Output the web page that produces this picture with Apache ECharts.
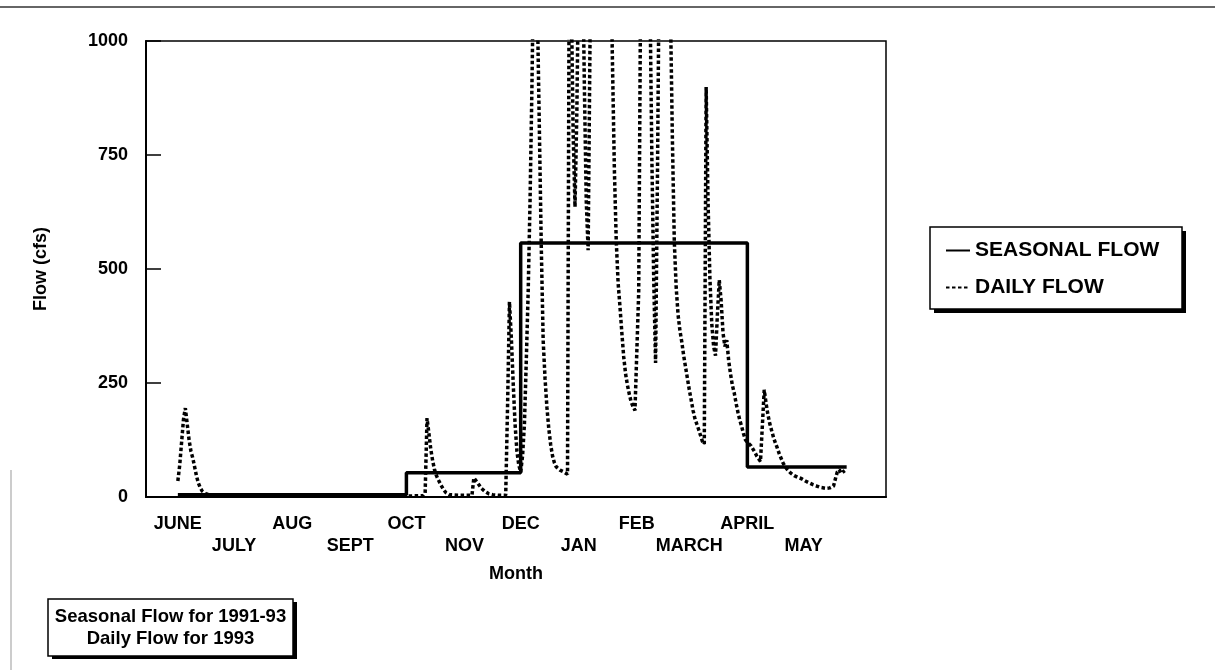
<!DOCTYPE html>
<html><head><meta charset="utf-8">
<script src="https://cdn.jsdelivr.net/npm/echarts@6/dist/echarts.min.js"></script>
<style>html,body{margin:0;padding:0;background:#fff}#c{width:1215px;height:670px}</style>
</head><body><div id="c"></div>
<script>
// Month labels and their start day (days counted from June 1)
const monthNames = ['JUNE','JULY','AUG','SEPT','OCT','NOV','DEC','JAN','FEB','MARCH','APRIL','MAY'];
const monthStartDays = [0,30,61,92,122,153,183,214,245,273,304,334];
const yTicks = [0,250,500,750,1000];

// Seasonal flow (step values, 1991-93)
const seasonDays   = [0, 122, 183, 304, 357];
const seasonalFlow = [5, 53, 557, 66, 66];

// Daily flow 1993 (values above 1000 are clipped)
const dailyDays = [0,1,2,3,4,5,6,7,8,9,10,11,12,13,14,15,17,20,30,45,60,75,90,105,120,131,132,133,134,135,136,137,138,139,140,141,142,143,144,145,150,157,158,159,160,161,162,163,164,165,166,168,171,175,176,177,178,179,180,181,182,183,184,185,186,187,188,189,190,191,192,193,194,195,196,197,198,199,200,201,202,203,204,205,206,207,208,209,210,211,212,213,214,215,216,217,218,219,220,221,222,223,224,225,226,227,228,229,230,231,232,233,234,235,236,237,238,239,240,241,242,243,244,245,246,247,248,249,250,251,252,253,254,255,256,257,258,259,260,261,262,263,264,265,266,267,268,269,270,271,272,273,274,275,276,277,278,279,280,281,282,283,284,285,286,287,288,289,290,291,292,293,294,295,296,297,298,299,300,301,302,303,304,305,306,307,308,309,310,311,312,313,314,315,316,317,318,319,320,321,322,323,324,325,326,327,328,329,330,331,332,333,334,335,336,337,338,339,340,341,342,343,344,346,348,350,351,352,353,354,355,356];
const dailyFlow = [35,70,120,170,195,160,125,100,85,65,45,30,20,13,9,7,5,4,3,3,2,2,2,2,2,3,8,173,140,105,80,60,47,38,30,22,15,10,7,5,4,4,42,38,31,25,19,15,12,9,7,5,4,4,200,428,350,250,160,100,70,55,90,160,300,450,650,899,1200,1350,1050,800,548,344,260,197,150,115,90,75,66,62,59,57,55,53,50,1300,1100,800,636,850,1200,1400,1200,900,650,541,1000,1500,1800,2000,2100,2000,1900,1800,1700,1550,1400,1200,950,720,563,470,417,360,307,270,245,225,208,198,190,186,450,1100,1600,1800,1700,1500,1100,750,480,294,700,1200,1500,1700,1650,1500,1300,1050,780,560,460,400,365,340,310,285,260,235,213,190,172,160,148,135,122,116,899,650,480,380,330,310,400,476,430,360,330,344,300,270,245,228,205,185,168,154,138,125,120,118,112,105,98,90,84,78,75,235,205,180,160,145,130,118,107,95,85,75,68,62,58,53,50,47,45,43,41,40,38,35,33,31,29,27,25,24,22,21,20,19,20,24,40,55,60,52,50,58];

const FONT = "'Liberation Sans', Arial, Helvetica, sans-serif";
const W = 'bold';
const chart = echarts.init(document.getElementById('c'));
chart.setOption({
  animation: false,
  backgroundColor: '#fff',
  textStyle: { fontFamily: FONT, color: '#000' },
  grid: { left: 146, right: 329, top: 41, bottom: 173, show: true, borderColor: '#000', borderWidth: 1.5, containLabel: false },
  xAxis: {
    type: 'value', min: -17, max: 378,
    name: 'Month', nameLocation: 'middle', nameGap: 68,
    nameTextStyle: { fontSize: 18, fontWeight: W, color: '#000', fontFamily: FONT },
    axisLine: { show: true, onZero: false, lineStyle: { color: '#000', width: 2 } },
    axisTick: { show: false },
    splitLine: { show: false },
    axisLabel: {
      customValues: monthStartDays,
      fontSize: 18, fontWeight: W, color: '#000', fontFamily: FONT, lineHeight: 22, margin: 16,
      formatter: function (v) {
        const i = monthStartDays.indexOf(v);
        if (i < 0) return '';
        return i % 2 ? '\n' + monthNames[i] : monthNames[i];
      }
    }
  },
  yAxis: {
    type: 'value', min: yTicks[0], max: yTicks[yTicks.length - 1], interval: 250,
    name: 'Flow (cfs)', nameLocation: 'middle', nameGap: 96,
    nameTextStyle: { fontSize: 18, fontWeight: W, color: '#000', fontFamily: FONT },
    axisLine: { show: true, onZero: false, lineStyle: { color: '#000', width: 2 } },
    axisTick: { show: true, inside: true, length: 15, lineStyle: { color: '#000', width: 1.5 } },
    splitLine: { show: false },
    axisLabel: { fontSize: 18, fontWeight: W, color: '#000', fontFamily: FONT, margin: 18,
      formatter: function (v) { return String(v); } }
  },
  legend: {
    orient: 'vertical', left: 930, top: 227, z: 10,
    data: ['SEASONAL FLOW', 'DAILY FLOW'],
    padding: [13, 22, 12, 15],
    itemGap: 16, itemWidth: 24, itemHeight: 14,
    itemStyle: { opacity: 0 },
    textStyle: { fontSize: 21, fontWeight: W, color: '#000', fontFamily: FONT }
  },
  graphic: [
    { type: 'line', z: 0, shape: { x1: 0, y1: 7, x2: 1215, y2: 7 }, style: { stroke: '#333', lineWidth: 1.5 }, silent: true },
    { type: 'line', z: 0, shape: { x1: 11, y1: 470, x2: 11, y2: 670 }, style: { stroke: '#999', lineWidth: 1 }, silent: true },
    // legend box (shadow + frame)
    { type: 'rect', z: 0, shape: { x: 934, y: 231, width: 252, height: 82 }, style: { fill: '#000' }, silent: true },
    { type: 'rect', z: 0, shape: { x: 930, y: 227, width: 252, height: 82 }, style: { fill: '#fff', stroke: '#000', lineWidth: 1.5 }, silent: true },
    // note box (shadow + frame + text)
    { type: 'rect', z: 0, shape: { x: 52, y: 602, width: 245, height: 57 }, style: { fill: '#000' }, silent: true },
    { type: 'rect', z: 0, shape: { x: 48, y: 599, width: 245, height: 57 }, style: { fill: '#fff', stroke: '#000', lineWidth: 1.5 }, silent: true },
    { type: 'text', z: 1, x: 170.5, y: 628,
      style: { text: 'Seasonal Flow for 1991-93\nDaily Flow for 1993', font: "bold 18.5px " + FONT, fill: '#000', align: 'center', verticalAlign: 'middle', lineHeight: 22 } }
  ],
  series: [
    {
      name: 'SEASONAL FLOW', type: 'line', step: 'end', symbol: 'none', z: 3,
      data: seasonDays.map((d, i) => [d, seasonalFlow[i]]),
      lineStyle: { color: '#000', width: 3.5 }, itemStyle: { color: '#000' }
    },
    {
      name: 'DAILY FLOW', type: 'line', symbol: 'none', clip: true, z: 2,
      data: dailyDays.map((d, i) => [d, dailyFlow[i]]),
      lineStyle: { color: '#000', width: 3.5, type: [3.5, 2.5] }, itemStyle: { color: '#000' }
    }
  ]
});
</script>
</body></html>
